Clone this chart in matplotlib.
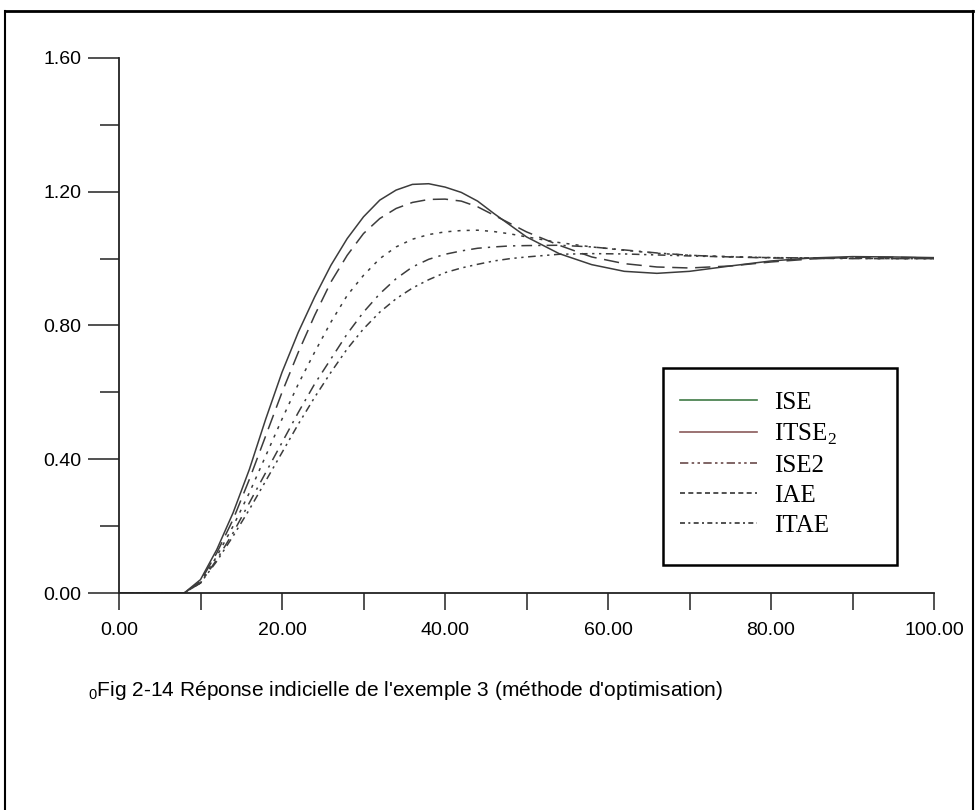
import matplotlib.pyplot as plt
from matplotlib.lines import Line2D
from matplotlib.patches import Rectangle
from matplotlib.ticker import MultipleLocator, FormatStrFormatter

# time axis and step responses
t = [0, 8, 10, 12, 14, 16, 18, 20, 22, 24, 26, 28, 30, 32, 34, 36, 38, 40,
     42, 44, 46, 48, 50, 54, 58, 62, 66, 70, 75, 80, 85, 90, 95, 100]

ise = [0, 0, 0.04, 0.13, 0.24, 0.37, 0.52, 0.66, 0.78, 0.885, 0.98, 1.06,
       1.125, 1.175, 1.205, 1.222, 1.224, 1.214, 1.198, 1.172, 1.135, 1.10,
       1.065, 1.015, 0.982, 0.962, 0.956, 0.962, 0.978, 0.993, 1.002, 1.006,
       1.005, 1.003]
itse2 = [0, 0, 0.035, 0.12, 0.22, 0.34, 0.47, 0.60, 0.72, 0.83, 0.93, 1.01,
         1.075, 1.12, 1.15, 1.168, 1.177, 1.178, 1.172, 1.155, 1.13, 1.105,
         1.08, 1.04, 1.005, 0.985, 0.975, 0.972, 0.978, 0.99, 0.999, 1.004,
         1.004, 1.002]
ise2 = [0, 0, 0.03, 0.11, 0.20, 0.30, 0.41, 0.52, 0.625, 0.72, 0.81, 0.89,
        0.95, 1.0, 1.035, 1.058, 1.072, 1.08, 1.084, 1.085, 1.081, 1.074,
        1.065, 1.048, 1.035, 1.025, 1.016, 1.01, 1.006, 1.003, 1.002, 1.001,
        1.0, 1.0]
iae = [0, 0, 0.03, 0.10, 0.18, 0.27, 0.36, 0.45, 0.54, 0.625, 0.70, 0.775,
       0.84, 0.895, 0.94, 0.975, 0.998, 1.013, 1.023, 1.031, 1.035, 1.038,
       1.039, 1.04, 1.035, 1.026, 1.017, 1.01, 1.005, 1.002, 1.001, 1.0,
       1.0, 1.0]
itae = [0, 0, 0.03, 0.095, 0.17, 0.25, 0.335, 0.42, 0.505, 0.585, 0.66, 0.73,
        0.79, 0.84, 0.88, 0.912, 0.937, 0.958, 0.972, 0.983, 0.993, 1.0,
        1.005, 1.013, 1.015, 1.014, 1.011, 1.008, 1.005, 1.003, 1.002, 1.001,
        1.0, 1.0]

labels = ["ISE", r"ITSE$_\mathregular{2}$", "ISE2", "IAE", "ITAE"]
caption = r"$_\mathregular{0}$Fig 2-14 Réponse indicielle de l'exemple 3 (méthode d'optimisation)"

plt.rcParams['font.family'] = ['Liberation Sans', 'DejaVu Sans']

fig = plt.figure(figsize=(9.76, 8.10), dpi=100)
ax = fig.add_axes([119/976, 1 - 593/810, (934-119)/976, (593-58)/810])

col = '#3c3c3c'
ax.plot(t, ise, color=col, lw=1.1, ls='-')
ax.plot(t, itse2, color=col, lw=1.1, ls=(0, (10, 5)))
ax.plot(t, ise2, color=col, lw=1.1, ls=(0, (2, 4)))
ax.plot(t, iae, color=col, lw=1.1, ls=(0, (7, 4, 1.5, 4)))
ax.plot(t, itae, color=col, lw=1.1, ls=(0, (5, 3, 1.5, 3, 1.5, 3)))

ax.set_xlim(0, 100)
ax.set_ylim(0, 1.6)
for s in ['top', 'right']:
    ax.spines[s].set_visible(False)
for s in ['left', 'bottom']:
    ax.spines[s].set_linewidth(1.3)
    ax.spines[s].set_color('#222222')

ax.xaxis.set_major_locator(MultipleLocator(20))
ax.xaxis.set_minor_locator(MultipleLocator(10))
ax.yaxis.set_major_locator(MultipleLocator(0.4))
ax.yaxis.set_minor_locator(MultipleLocator(0.2))
ax.xaxis.set_major_formatter(FormatStrFormatter('%.2f'))
ax.yaxis.set_major_formatter(FormatStrFormatter('%.2f'))
ax.tick_params(axis='x', which='both', direction='out', length=12, width=1.1,
               pad=9, labelsize=14, color='#222222')
ax.tick_params(axis='y', which='major', direction='out', length=22, width=1.1,
               pad=5, labelsize=14, color='#222222')
ax.tick_params(axis='y', which='minor', direction='out', length=14, width=1.1,
               color='#222222')

# legend, drawn the way the scan shows it (box drawn separately)
handles = [
    Line2D([], [], color='#3f7a45', lw=1.2, ls='-'),
    Line2D([], [], color='#8a5a5a', lw=1.2, ls='-'),
    Line2D([], [], color='#6a4a4a', lw=1.2, ls=(0, (5, 2, 1.5, 2, 1.5, 2))),
    Line2D([], [], color='#333333', lw=1.2, ls=(0, (3, 2))),
    Line2D([], [], color='#333333', lw=1.2, ls=(0, (3, 2, 1.2, 2))),
]
leg = ax.legend(handles, labels, loc='upper left',
                bbox_to_anchor=(672/976, 1 - 384/810),
                bbox_transform=fig.transFigure,
                prop={'family': 'Liberation Serif', 'size': 18},
                frameon=False, handlelength=3.1, handletextpad=0.7,
                labelspacing=0.3, borderpad=0.3, borderaxespad=0)
fig.add_artist(Rectangle((663/976, 1 - 565/810), (897-663)/976, (565-368)/810,
                         transform=fig.transFigure, fill=False,
                         edgecolor='black', lw=1.8))

fig.text(88/976, 1 - 691/810, caption, ha='left', va='center', fontsize=15)

# page frame of the scan
fig.add_artist(Line2D([5/976, 5/976], [0, 1 - 11/810], color='black', lw=1.5))
fig.add_artist(Line2D([5/976, 973/976], [1 - 11/810, 1 - 11/810], color='black', lw=2))
fig.add_artist(Line2D([973/976, 973/976], [0, 1 - 11/810], color='black', lw=1.5))

fig.savefig('out.png', dpi=100)
